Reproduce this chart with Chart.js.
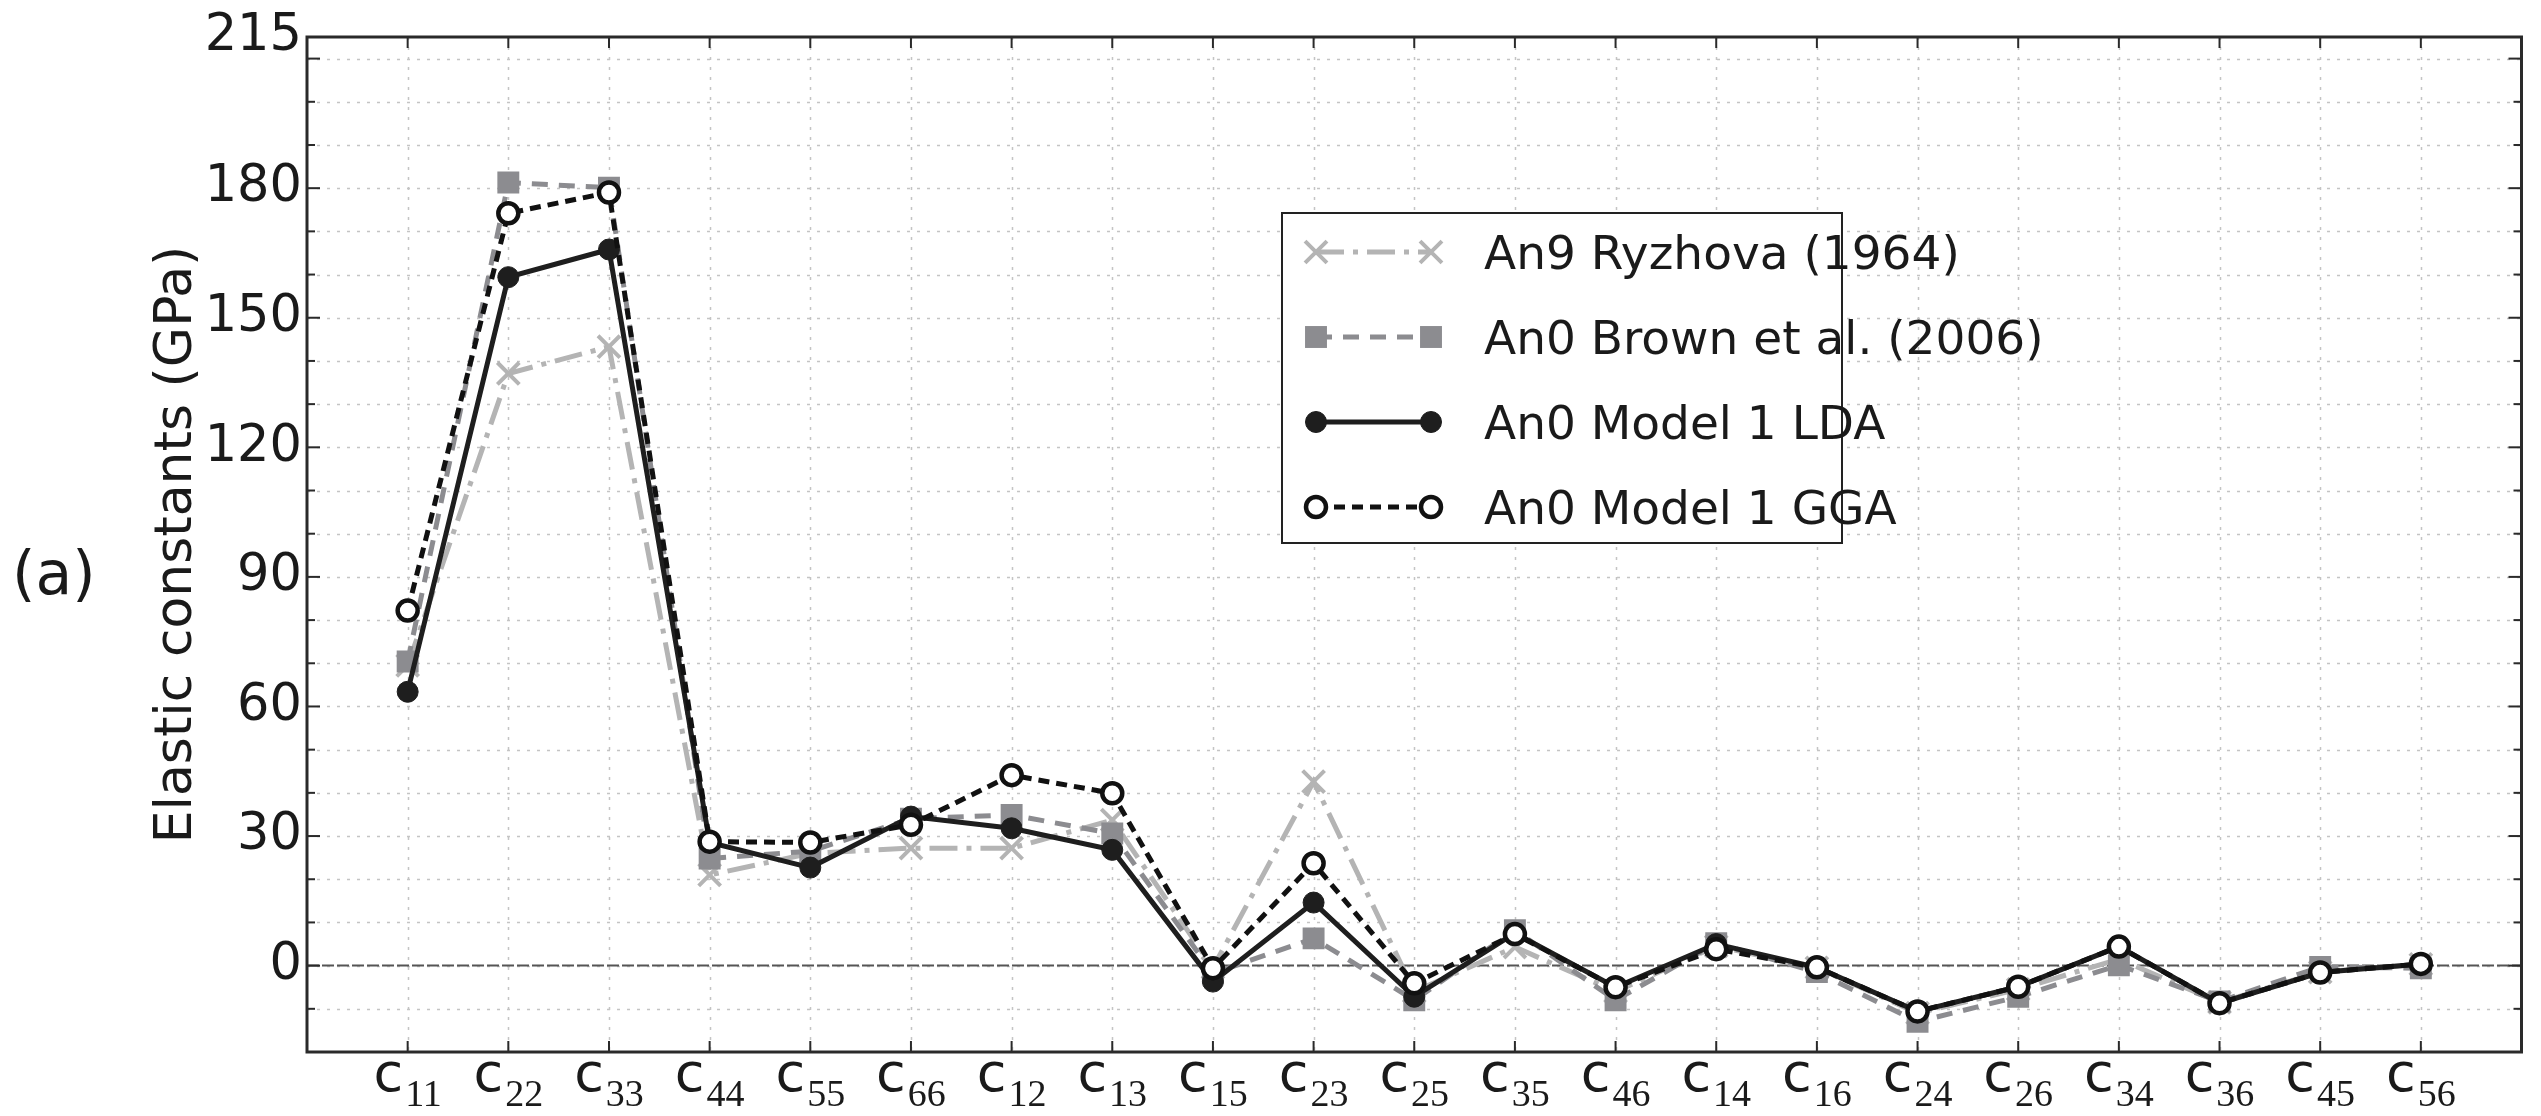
<!DOCTYPE html>
<html>
<head>
<meta charset="utf-8">
<style>
html,body{margin:0;padding:0;background:#fff;overflow:hidden;}
#wrap{position:relative;width:2541px;height:1116px;}
canvas{display:block;}
</style>
<script src="https://cdn.jsdelivr.net/npm/chart.js@4.4.1/dist/chart.umd.min.js"></script>
</head>
<body>
<div id="wrap"><canvas id="c" width="2541" height="1116"></canvas></div>
<script>
// ---------- data ----------
const categories = ['c11','c22','c33','c44','c55','c66','c12','c13','c15','c23','c25','c35','c46','c14','c16','c24','c26','c34','c36','c45','c56'];
const ryzhovaAn9 = [69.5,137.1,143.3,21.0,26.0,27.2,27.2,33.7,-0.5,42.6,-6.0,4.3,-6.0,4.5,-0.5,-11.0,-5.5,1.5,-8.5,-1.5,0.3];
const brownAn0   = [70.4,181.3,180.1,24.8,26.5,34.0,34.9,30.6,-1.8,6.3,-8.0,8.2,-8.0,5.2,-1.5,-13.0,-7.2,0.1,-8.3,-0.3,-0.6];
const ldaAn0     = [63.4,159.4,165.8,28.5,22.7,34.5,31.8,26.8,-3.7,14.6,-7.2,7.5,-5.0,5.0,-0.4,-10.6,-4.9,4.4,-8.7,-1.6,0.4];
const ggaAn0     = [82.2,174.2,179.0,28.7,28.5,32.6,44.1,39.9,-0.6,23.7,-4.1,7.3,-5.0,3.8,-0.4,-10.6,-4.9,4.4,-8.7,-1.6,0.4];
const seriesNames = ['An9 Ryzhova (1964)','An0 Brown et al. (2006)','An0 Model 1 LDA','An0 Model 1 GGA'];
const yTickLabels = [0,30,60,90,120,150,180,215];
const yAxisTitle = 'Elastic constants (GPa)';
const panelLabel = '(a)';

const toXY = arr => arr.map((v,i)=>({x:i,y:v}));

const datasets = [
  {label:seriesNames[0], data:toXY(ryzhovaAn9), borderColor:'#b4b4b4', borderWidth:5, borderDash:[28,9,5,9],
   pointStyle:'crossRot', pointRadius:15.5, pointBorderWidth:4, pointBorderColor:'#b4b4b4', pointBackgroundColor:'#b4b4b4', order:4},
  {label:seriesNames[1], data:toXY(brownAn0), borderColor:'#8c8c90', borderWidth:5, borderDash:[16,11],
   pointStyle:'rect', pointRadius:15.5, pointBorderWidth:0, pointBorderColor:'#8c8c90', pointBackgroundColor:'#8c8c90', order:3},
  {label:seriesNames[2], data:toXY(ldaAn0), borderColor:'#1e1e1e', borderWidth:5, borderDash:[],
   pointStyle:'circle', pointRadius:10.5, pointBorderWidth:1, pointBorderColor:'#1e1e1e', pointBackgroundColor:'#1e1e1e', order:2},
  {label:seriesNames[3], data:toXY(ggaAn0), borderColor:'#111111', borderWidth:5, borderDash:[11,7],
   pointStyle:'circle', pointRadius:10, pointBorderWidth:4.5, pointBorderColor:'#111111', pointBackgroundColor:'#ffffff', order:1}
];
datasets.forEach(d=>{ d.fill=false; d.tension=0; d.borderCapStyle='butt'; d.pointHoverRadius=d.pointRadius; });

const frame = {
  id:'frame',
  beforeDatasetsDraw(chart){
    const ctx = chart.ctx, a = chart.chartArea, xs = chart.scales.x, ys = chart.scales.y;
    ctx.save();
    ctx.strokeStyle = '#c4c4c4'; ctx.lineWidth = 1.5; ctx.setLineDash([3,7]);
    for (let v=-10; v<=210; v+=10){
      const y = Math.round(ys.getPixelForValue(v))+0.5;
      ctx.beginPath(); ctx.moveTo(a.left,y); ctx.lineTo(a.right,y); ctx.stroke();
    }
    categories.forEach((c,i)=>{
      const x = Math.round(xs.getPixelForValue(i))+0.5;
      ctx.beginPath(); ctx.moveTo(x,a.top); ctx.lineTo(x,a.bottom); ctx.stroke();
    });
    // zero line
    ctx.strokeStyle = '#555'; ctx.lineWidth = 2; ctx.setLineDash([12,3]);
    const y0 = ys.getPixelForValue(0);
    ctx.beginPath(); ctx.moveTo(a.left,y0); ctx.lineTo(a.right,y0); ctx.stroke();
    ctx.restore();
  },
  afterDatasetsDraw(chart){
    const ctx = chart.ctx, a = chart.chartArea, xs = chart.scales.x, ys = chart.scales.y;
    ctx.save();
    ctx.setLineDash([]);
    ctx.strokeStyle = '#2a2a2a';
    // ticks
    ctx.lineWidth = 2;
    for (let v=-10; v<=210; v+=10){
      const y = ys.getPixelForValue(v);
      const len = (v>=0 && v%30===0) ? 13 : 8;
      ctx.beginPath(); ctx.moveTo(a.left,y); ctx.lineTo(a.left+len,y); ctx.stroke();
      ctx.beginPath(); ctx.moveTo(a.right,y); ctx.lineTo(a.right-len,y); ctx.stroke();
    }
    categories.forEach((c,i)=>{
      const x = xs.getPixelForValue(i);
      ctx.beginPath(); ctx.moveTo(x,a.top); ctx.lineTo(x,a.top+11); ctx.stroke();
      ctx.beginPath(); ctx.moveTo(x,a.bottom); ctx.lineTo(x,a.bottom-11); ctx.stroke();
    });
    // spines
    ctx.lineWidth = 3;
    ctx.strokeRect(a.left, a.top, a.right-a.left, a.bottom-a.top);

    // x tick labels: c + subscript
    ctx.fillStyle = '#1a1a1a';
    ctx.textBaseline = 'alphabetic';
    ctx.textAlign = 'left';
    const fBase = '54px "DejaVu Sans"', fSub = '38px "Liberation Serif"';
    categories.forEach((c,i)=>{
      const x = xs.getPixelForValue(i);
      const base = c.charAt(0), sub = c.slice(1);
      ctx.font = fBase; const wb = ctx.measureText(base).width;
      ctx.font = fSub;  const ws = ctx.measureText(sub).width;
      const gap = 2;
      const x0 = x - (wb+gap+ws)/2;
      ctx.font = fBase; ctx.fillText(base, x0, a.bottom+39);
      ctx.font = fSub;  ctx.fillText(sub, x0+wb+gap, a.bottom+54);
    });

    // panel label
    ctx.font = '60px "DejaVu Sans"';
    ctx.fillText(panelLabel, 12, 594);

    // legend
    const lx = 1282, ly = 213, lw = 560, lh = 330;
    ctx.fillStyle = '#ffffff';
    ctx.fillRect(lx, ly, lw, lh);
    ctx.lineWidth = 2; ctx.strokeStyle = '#222';
    ctx.strokeRect(lx, ly, lw, lh);
    const rows = [252,337,422,507];
    chart.data.datasets.forEach((d,k)=>{
      const y = rows[k];
      const x1 = 1316, x2 = 1431;
      ctx.save();
      ctx.strokeStyle = d.borderColor; ctx.lineWidth = d.borderWidth; ctx.lineCap='butt';
      ctx.setLineDash(d.borderDash||[]);
      ctx.beginPath(); ctx.moveTo(x1,y); ctx.lineTo(x2,y); ctx.stroke();
      ctx.setLineDash([]);
      [x1,x2].forEach(px=>{
        ctx.fillStyle = d.pointBackgroundColor; ctx.strokeStyle = d.pointBorderColor; ctx.lineWidth = d.pointBorderWidth;
        Chart.helpers.drawPoint(ctx, {pointStyle:d.pointStyle, radius:d.pointRadius, rotation:0, borderWidth:d.pointBorderWidth}, px, y);
      });
      ctx.restore();
      ctx.fillStyle = '#1a1a1a';
      ctx.font = '47px "DejaVu Sans"';
      ctx.textBaseline = 'alphabetic';
      ctx.fillText(d.label, 1484, y+17);
    });
    ctx.restore();
  }
};

const chart = new Chart(document.getElementById('c').getContext('2d'), {
  type:'line',
  data:{datasets},
  options:{
    responsive:false, animation:false, devicePixelRatio:1,
    layout:{padding:{left:0,right:2,top:37,bottom:0}},
    plugins:{legend:{display:false}, tooltip:{enabled:false}, title:{display:false}},
    events:[],
    scales:{
      x:{type:'linear', min:-1, max:21,
         grid:{display:false, drawTicks:false}, border:{display:false},
         ticks:{display:false},
         afterFit(s){ s.height = 64; }},
      y:{type:'linear', min:-20, max:215,
         afterBuildTicks(s){ s.ticks = yTickLabels.map(v=>({value:v})); },
         grid:{display:false, drawTicks:false}, border:{display:false},
         ticks:{autoSkip:false, padding:5, color:'#1a1a1a', font:{family:'DejaVu Sans', size:51}, callback:(v)=>String(v)},
         title:{display:true, text:yAxisTitle, color:'#1a1a1a', font:{family:'DejaVu Sans', size:52}, padding:{top:146,bottom:0}},
         afterFit(s){ s.width = 307; }}
    }
  },
  plugins:[frame]
});
</script>
</body>
</html>
